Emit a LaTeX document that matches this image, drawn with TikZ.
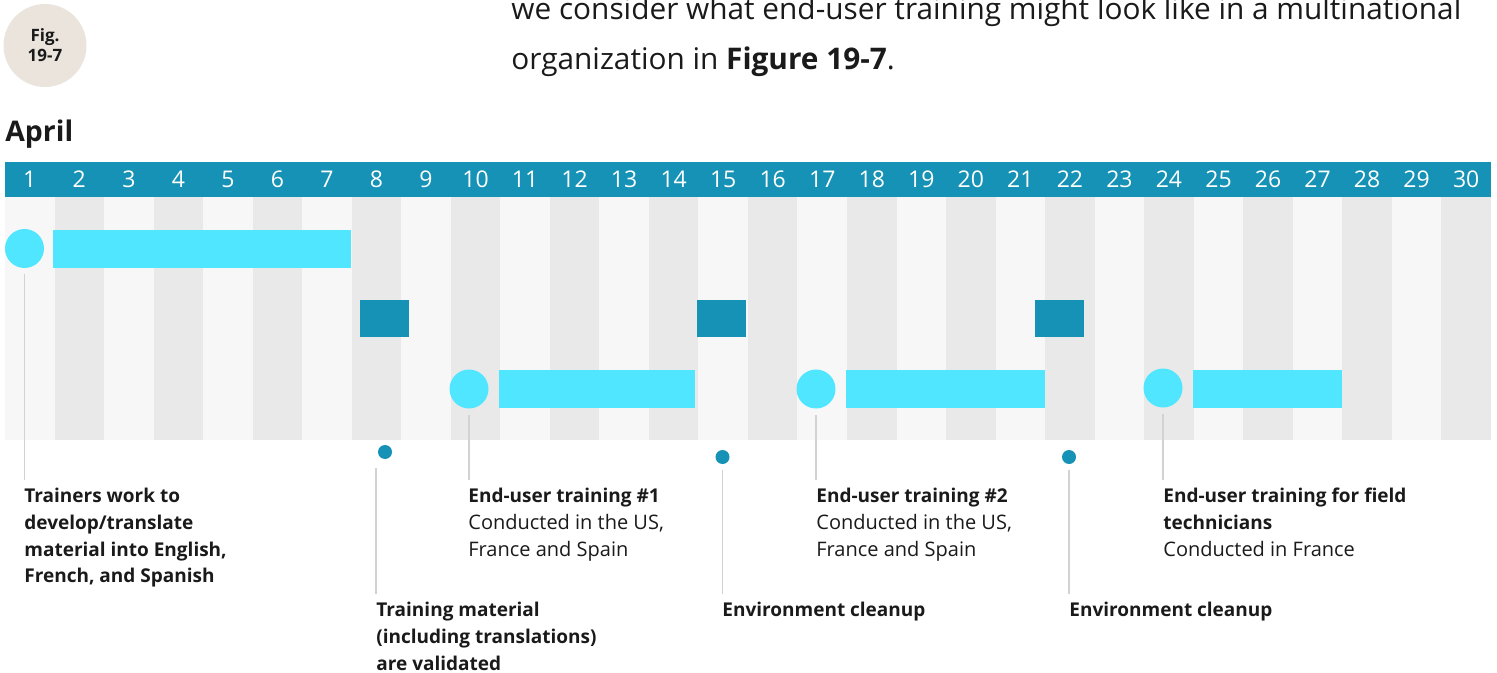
\documentclass[tikz,border=0pt]{standalone}
\usepackage{fontspec}
\setmainfont{Open Sans}

\definecolor{hdrblue}{RGB}{21,146,181}
\definecolor{barcyan}{RGB}{80,230,255}
\definecolor{stripelt}{RGB}{247,247,247}
\definecolor{stripedk}{RGB}{233,233,233}
\definecolor{leadgray}{RGB}{210,210,210}
\definecolor{figbeige}{RGB}{234,228,221}
\definecolor{inkblack}{RGB}{26,26,26}

\newcommand{\evthead}[1]{{\bfseries\fontsize{9.5}{13.35}\selectfont #1}}

\begin{document}
\begin{tikzpicture}[x=0.5pt, y=-0.5pt,
    every node/.style={inner sep=0pt, text=inkblack},
    daynum/.style={text=white, font=\fontsize{11.5}{13}\selectfont},
    startdot/.style={circle, fill=barcyan, minimum size=19.5pt},
    evtbar/.style={fill=barcyan},
    chkbox/.style={fill=hdrblue},
    milestone/.style={circle, fill=hdrblue, minimum size=7pt},
    leader/.style={draw=leadgray, line width=0.75pt, shorten <=3pt, shorten >=4pt},
    evtlabel/.style={anchor=north west, align=left, font=\fontsize{10}{13.35}\selectfont},
    boldlabel/.style={evtlabel, font=\bfseries\fontsize{9.5}{13.35}\selectfont}]
    \useasboundingbox (0,0) rectangle (1497,673);
    \clip (0,0) rectangle (1497,673);

    % heading
    \node[circle, fill=figbeige, minimum size=41.5pt, align=center,
          font=\bfseries\fontsize{8.5}{10}\selectfont] (fig) at (45,45.5) {Fig.\\19-7};
    \node[anchor=base west, align=left, font=\fontsize{14.9}{25}\selectfont] (intro) at (511,70)
        {we consider what end-user training might look like in a multinational\\organization in \textbf{Figure 19-7}.};
    \node[anchor=base west, font=\bfseries\fontsize{14.2}{18}\selectfont] (month) at (5,142) {April};

    % calendar
    \fill[hdrblue] (5,162) rectangle (1491,197);
    \foreach \d in {1,...,30}{
        \pgfmathsetmacro{\xl}{5+(\d-1)*49.53}
        \ifodd\d \def\stripe{stripelt}\else\def\stripe{stripedk}\fi
        \fill[\stripe] (\xl,197) rectangle ++(49.53,243);
        \node[daynum] (day\d) at (\xl+24.77,179.5) {\d};
    }

    % bars
    \node[startdot] (t0) at (24.5,248.5) {};
    \fill[evtbar] (53,230) rectangle (351,268);
    \fill[chkbox] (360,300) rectangle (409,337);
    \fill[chkbox] (697,300) rectangle (746,337);
    \fill[chkbox] (1035,300) rectangle (1084,337);
    \node[startdot] (t1) at (469,389) {};
    \fill[evtbar] (499,370) rectangle (695,408);
    \node[startdot] (t2) at (816,389) {};
    \fill[evtbar] (846,370) rectangle (1045,408);
    \node[startdot] (t3) at (1163,388) {};
    \fill[evtbar] (1193,370) rectangle (1342,408);

    % milestones
    \node[milestone] (v1) at (385,452) {};
    \node[milestone] (c1) at (722.5,457) {};
    \node[milestone] (c2) at (1069,457) {};

    % labels
    \node[boldlabel] (lt0) at (24,488)
        {Trainers work to\\develop/translate\\material into English,\\French, and Spanish};
    \node[evtlabel] (lt1) at (468,488) {\evthead{End-user training \#1}\\Conducted in the US,\\France and Spain};
    \node[evtlabel] (lt2) at (816,488) {\evthead{End-user training \#2}\\Conducted in the US,\\France and Spain};
    \node[evtlabel] (lt3) at (1163,488) {\evthead{End-user training for field}\\\evthead{technicians}\\Conducted in France};
    \node[boldlabel] (lv1) at (376,602)
        {Training material\\(including translations)\\are validated};
    \node[boldlabel] (lc1) at (722,602) {Environment cleanup};
    \node[boldlabel] (lc2) at (1069,602) {Environment cleanup};

    % leaders
    \draw[leader] (t0.south) -- (t0.south |- lt0.north);
    \draw[leader] (t1.south) -- (t1.south |- lt1.north);
    \draw[leader] (t2.south) -- (t2.south |- lt2.north);
    \draw[leader] (t3.south) -- (t3.south |- lt3.north);
    \draw[leader, shorten <=4.5pt] (v1.south -| lv1.west) -- (lv1.north west);
    \draw[leader] (c1.south) -- (c1.south |- lc1.north);
    \draw[leader] (c2.south) -- (c2.south |- lc2.north);
\end{tikzpicture}
\end{document}
